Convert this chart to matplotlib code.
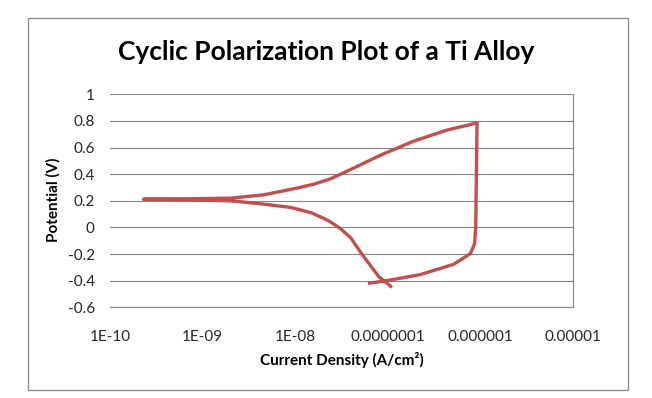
import matplotlib
matplotlib.use("Agg")
import matplotlib.pyplot as plt
from matplotlib.patches import Rectangle
from matplotlib.ticker import FixedLocator, NullLocator

# data (one continuous scan)
current = [
    1.11e-7, 8.0e-8, 5.2e-8, 4.0e-8, 3.1e-8, 2.3e-8, 1.5e-8, 9.0e-9,
    4.6e-9, 2.0e-9, 7.0e-10, 2.3e-10,
    7.0e-10, 2.0e-9, 4.6e-9, 1.05e-8, 1.6e-8, 2.4e-8, 3.6e-8, 8.3e-8,
    1.9e-7, 4.4e-7, 9.2e-7,
    8.9e-7, 8.65e-7, 7.8e-7, 5.1e-7, 2.25e-7, 9.8e-8, 6.1e-8,
]
potential = [
    -0.450, -0.370, -0.197, -0.080, -0.010, 0.050, 0.110, 0.150,
    0.175, 0.200, 0.208, 0.212,
    0.215, 0.220, 0.245, 0.296, 0.325, 0.365, 0.421, 0.542,
    0.648, 0.732, 0.785,
    0.0, -0.122, -0.197, -0.278, -0.354, -0.400, -0.420,
]

x_ticks = [1e-10, 1e-9, 1e-8, 1e-7, 1e-6, 1e-5]
x_labels = ["1E-10", "1E-09", "1E-08", "0.0000001", "0.000001", "0.00001"]
y_ticks = [-0.6, -0.4, -0.2, 0, 0.2, 0.4, 0.6, 0.8, 1]
y_labels = ["-0.6", "-0.4", "-0.2", "0", "0.2", "0.4", "0.6", "0.8", "1"]

plt.rcParams["font.family"] = ["Lato", "DejaVu Sans"]
grid_color = "#868686"
line_color = "#C0504D"

fig = plt.figure(figsize=(6.52, 3.98), dpi=100)
fig.patch.set_facecolor("white")

# outer chart frame
fig.patches.append(Rectangle((28 / 652, 8 / 398), 600 / 652, 372 / 398,
                             transform=fig.transFigure, fill=False,
                             edgecolor=grid_color, linewidth=0.9))

ax = fig.add_axes([110 / 652, 1 - 307.3 / 398, 463 / 652, 213 / 398])
ax.plot(current, potential, color=line_color, lw=2.4,
        solid_joinstyle="round", solid_capstyle="butt")

ax.set_xscale("log")
ax.set_xlim(1e-10, 1e-5)
ax.set_ylim(-0.6, 1)
ax.xaxis.set_major_locator(FixedLocator(x_ticks))
ax.xaxis.set_minor_locator(NullLocator())
ax.set_xticklabels(x_labels)
ax.set_yticks(y_ticks)
ax.set_yticklabels(y_labels)
ax.tick_params(length=0, labelsize=11, labelcolor="#262626")
ax.tick_params(axis="x", pad=16)
ax.tick_params(axis="y", pad=11)

ax.grid(axis="y", color=grid_color, lw=0.8)
ax.set_axisbelow(True)
for side in ("left", "top"):
    ax.spines[side].set_visible(False)
for side in ("right", "bottom"):
    ax.spines[side].set_color(grid_color)
    ax.spines[side].set_linewidth(0.8)

# axis titles placed where the reference has them
fig.text(342 / 652, 1 - 360 / 398, "Current Density (A/cm²)",
         ha="center", va="center", fontsize=11, fontweight="bold")
fig.text(53 / 652, 1 - 200 / 398, "Potential (V)", rotation=90,
         ha="center", va="center", fontsize=11, fontweight="bold")

fig.text(0.5, 1 - 52 / 398, "Cyclic Polarization Plot of a Ti Alloy",
         ha="center", va="center", fontsize=19, fontweight="bold")

fig.savefig("out.png", dpi=100, facecolor="white")
